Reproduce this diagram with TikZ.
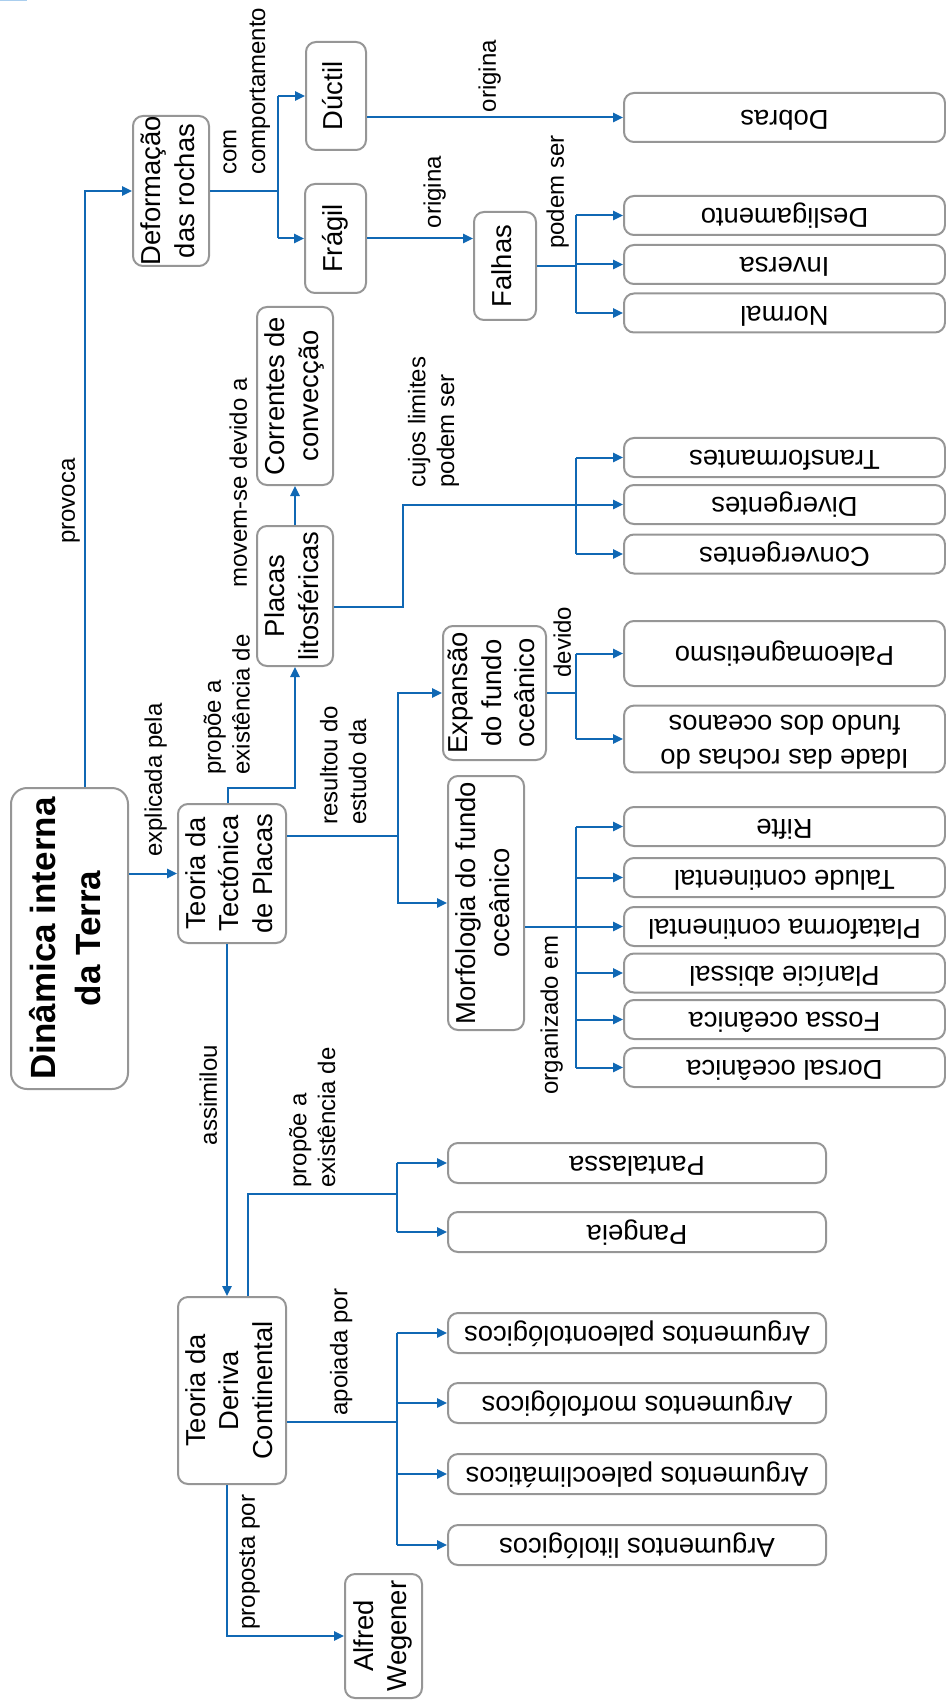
\documentclass[tikz,border=0pt]{standalone}
\usepackage{fontspec}
\setmainfont{Liberation Sans}
\usepackage{graphicx}
\usetikzlibrary{arrows.meta}
\definecolor{mapblue}{RGB}{16,104,180}
\definecolor{boxgray}{RGB}{150,150,150}
\definecolor{cornerblue}{RGB}{170,206,238}
\newcommand{\boxfont}{\fontsize{13.7pt}{16.7pt}\selectfont}
\newcommand{\titlefont}{\fontsize{17.5pt}{22.5pt}\selectfont\bfseries}
\newcommand{\labelfont}{\fontsize{12pt}{14.4pt}\selectfont}
\newcommand{\upward}[1]{\rotatebox{90}{\begin{tabular}{@{}c@{}}#1\end{tabular}}}
\newcommand{\upnote}[1]{\rotatebox{90}{\begin{tabular}{@{}l@{}}#1\end{tabular}}}
\newcommand{\flipped}[1]{\rotatebox{180}{\begin{tabular}{@{}c@{}}#1\end{tabular}}}
\tikzset{
  map line/.style={mapblue,line width=1pt},
  map arrow/.style={map line,-{Triangle[length=5pt,width=4.6pt]}},
  map box/.style={draw=boxgray,line width=1pt,rounded corners=5pt,fill=white,inner sep=0pt,font=\boxfont},
  map title/.style={map box,rounded corners=8pt,font=\titlefont},
  map leaf/.style={map box,minimum width=160.5pt,minimum height=19.5pt},
  map leaf left/.style={map box,minimum width=189pt,minimum height=20pt},
  map label/.style={inner sep=0pt,font=\labelfont}
}

\begin{document}
\begin{tikzpicture}[x=0.5pt,y=-0.5pt]
  \useasboundingbox (0,0) rectangle (946,1700);
  \fill[cornerblue] (0,0) rectangle (27,1.5);

  % concepts
  \node[map title,minimum width=58.5pt,minimum height=150.5pt] (dinamica) at (69.5,938.5)
    {\upward{Dinâmica interna\\da Terra}};
  \node[map box,minimum width=54pt,minimum height=69.5pt] (tectonica) at (232,873.5)
    {\upward{Teoria da\\Tectónica\\de Placas}};
  \node[map box,minimum width=54pt,minimum height=93.5pt] (deriva) at (232,1390.5)
    {\upward{Teoria da\\Deriva\\Continental}};
  \node[map box,minimum width=38pt,minimum height=75pt] (deform) at (171,191)
    {\upward{Deformação\\das rochas}};
  \node[map box,minimum width=30pt,minimum height=54pt] (ductil) at (336,96) {\upward{Dúctil}};
  \node[map box,minimum width=30.5pt,minimum height=54.5pt] (fragil) at (335.5,238.5) {\upward{Frágil}};
  \node[map box,minimum width=31pt,minimum height=54pt] (falhas) at (505,266) {\upward{Falhas}};
  \node[map box,minimum width=38pt,minimum height=89pt] (correntes) at (295,396)
    {\upward{Correntes de\\convecção}};
  \node[map box,minimum width=38pt,minimum height=70pt] (placas) at (295,596)
    {\upward{Placas\\litosféricas}};
  \node[map box,minimum width=51.5pt,minimum height=67pt] (expansao) at (494.5,693)
    {\upward{Expansão\\do fundo\\oceânico}};
  \node[map box,minimum width=38pt,minimum height=127pt] (morfologia) at (486,903)
    {\upward{Morfologia do fundo\\oceânico}};
  \node[map box,minimum width=38.5pt,minimum height=62pt] (alfred) at (383.5,1636)
    {\upward{Alfred\\Wegener}};

  % leaves
  \node[map leaf,minimum height=24.5pt] (dobras) at (784.5,117.5) {\flipped{Dobras}};
  \node[map leaf,minimum height=32.5pt] (paleomag) at (784.5,653.5) {\flipped{Paleomagnetismo}};
  \node[map leaf,minimum height=32pt] (idade) at (784.5,739)
    {\flipped{Idade das rochas do\\fundo dos oceanos}};
  \foreach \name/\y/\txt in {deslig/215.5/Desligamento, inversa/264.5/Inversa, normal/313/Normal,
      transf/457.5/Transformantes, diverg/504.5/Divergentes, converg/554/Convergentes,
      rifte/826.5/Rifte, talude/877.5/Talude continental, plataf/926.5/Plataforma continental,
      planicie/973/Planície abissal, fossa/1019.5/Fossa oceânica, dorsal/1067.5/Dorsal oceânica}
    \node[map leaf] (\name) at (784.5,\y) {\flipped{\txt}};
  \foreach \name/\y/\txt in {pantal/1163/Pantalassa, pangeia/1232/Pangeia,
      paleont/1333/Argumentos paleontológicos, morfol/1403/Argumentos morfológicos,
      paleocl/1474/Argumentos paleoclimáticos, litol/1545/Argumentos litológicos}
    \node[map leaf left] (\name) at (637,\y) {\flipped{\txt}};

  % branch points
  \coordinate (jD) at (278,191);
  \coordinate (jF) at (576,266);
  \coordinate (jP) at (576,504.5);
  \coordinate (jT) at (398,835.5);
  \coordinate (jE) at (576,693);
  \coordinate (jM) at (576,926.5);
  \coordinate (jW) at (397,1194);
  \coordinate (jA) at (397,1422);

  % connectors
  \draw[map arrow] (85,0 |- dinamica.north) |- (deform);
  \draw[map arrow] (dinamica.east |- tectonica) -- (tectonica);
  \draw[map line] (deform) -- (jD);
  \draw[map line] (jD |- ductil) -- (jD |- fragil);
  \draw[map arrow] (jD |- ductil) -- (ductil);
  \draw[map arrow] (jD |- fragil) -- (fragil);
  \draw[map arrow] (ductil.east |- dobras) -- (dobras);
  \draw[map arrow] (fragil) -- (fragil -| falhas.west);
  \draw[map line] (falhas) -- (jF);
  \draw[map line] (jF |- deslig) -- (jF |- normal);
  \foreach \leaf in {deslig,inversa,normal}
    \draw[map arrow] (jF |- \leaf) -- (\leaf);

  \draw[map arrow] ([xshift=-2pt]tectonica.north) -- ++(0,-15) -| (placas);
  \draw[map arrow] (placas) -- (correntes);
  \draw[map line] ([yshift=-5.5pt]placas.east) -| (403,504.5) -- (jP);
  \draw[map line] (jP |- transf) -- (jP |- converg);
  \foreach \leaf in {transf,diverg,converg}
    \draw[map arrow] (jP |- \leaf) -- (\leaf);

  \draw[map line] ([yshift=19pt]tectonica.east) -- (jT);
  \draw[map arrow] (jT) |- (expansao);
  \draw[map arrow] (jT) |- (morfologia);
  \draw[map line] (expansao) -- (jE);
  \draw[map line] (jE |- paleomag) -- (jE |- idade);
  \foreach \leaf in {paleomag,idade}
    \draw[map arrow] (jE |- \leaf) -- (\leaf);
  \draw[map line] (morfologia.east |- jM) -- (jM);
  \draw[map line] (jM |- rifte) -- (jM |- dorsal);
  \foreach \leaf in {rifte,talude,plataf,planicie,fossa,dorsal}
    \draw[map arrow] (jM |- \leaf) -- (\leaf);

  \draw[map arrow] ([xshift=-2.5pt]tectonica.south) -- ([xshift=-2.5pt]deriva.north);
  \draw[map line] ([xshift=8pt]deriva.north) |- (jW);
  \draw[map line] (jW |- pantal) -- (jW |- pangeia);
  \foreach \leaf in {pantal,pangeia}
    \draw[map arrow] (jW |- \leaf) -- (\leaf);
  \draw[map line] ([yshift=-15.75pt]deriva.east) -- (jA);
  \draw[map line] (jA |- paleont) -- (jA |- litol);
  \foreach \leaf in {paleont,morfol,paleocl,litol}
    \draw[map arrow] (jA |- \leaf) -- (\leaf);
  \draw[map arrow] ([xshift=-2.5pt]deriva.south) |- (alfred);

  % link words
  \node[map label] (l-provoca) at (69,501) {\upnote{provoca}};
  \node[map label,anchor=south] (l-comp) at (245,175) {\upnote{com\\comportamento}};
  \node[map label] (l-orig1) at (490,76) {\upnote{origina}};
  \node[map label] (l-orig2) at (435,192) {\upnote{origina}};
  \node[map label] (l-podem) at (558,192) {\upnote{podem ser}};
  \node[map label] (l-explic) at (156,780) {\upnote{explicada pela}};
  \node[map label,anchor=south] (l-propoe1) at (229.5,775) {\upnote{propõe a\\existência de}};
  \node[map label] (l-movem) at (241,483) {\upnote{movem-se devido a}};
  \node[map label,anchor=south] (l-limites) at (434,488) {\upnote{cujos limites\\podem ser}};
  \node[map label,anchor=south] (l-result) at (346,825) {\upnote{resultou do\\estudo da}};
  \node[map label] (l-devido) at (565,642) {\upnote{devido}};
  \node[map label] (l-organ) at (552,1015) {\upnote{organizado em}};
  \node[map label] (l-assim) at (211,1095) {\upnote{assimilou}};
  \node[map label,anchor=south] (l-propoe2) at (315,1188) {\upnote{propõe a\\existência de}};
  \node[map label] (l-apoiada) at (341.5,1352) {\upnote{apoiada por}};
  \node[map label] (l-proposta) at (249,1562) {\upnote{proposta por}};
\end{tikzpicture}
\end{document}
